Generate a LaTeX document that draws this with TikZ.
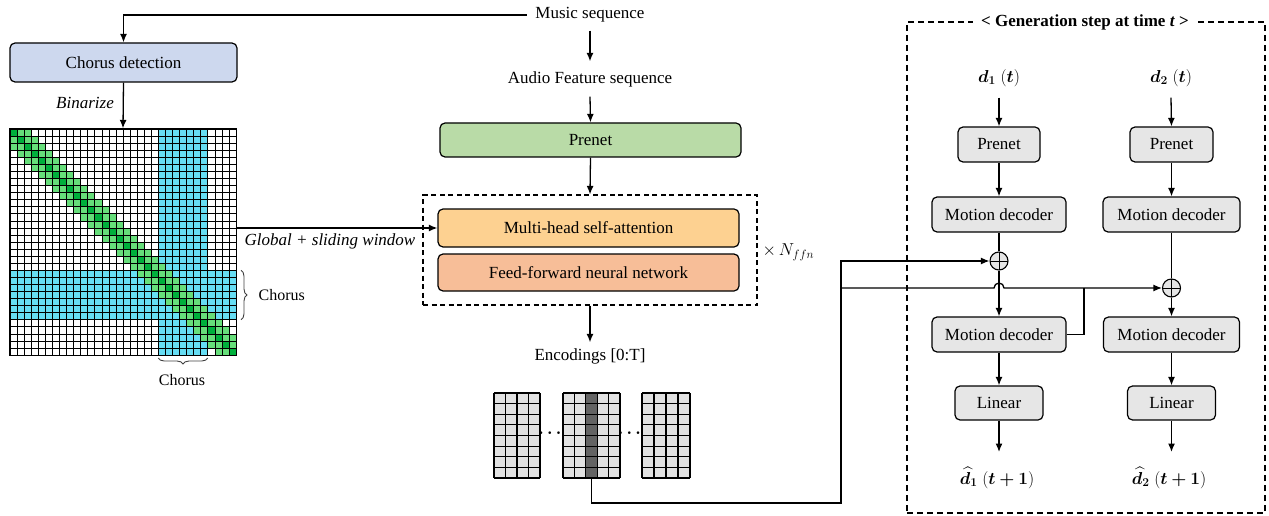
\documentclass[tikz,border=0pt]{standalone}
\usepackage{amsmath,bm}
\usepackage{fontspec}
\setmainfont{Liberation Serif}
\usetikzlibrary{arrows.meta,decorations.pathreplacing}
\AtBeginDocument{\fontsize{17}{20}\selectfont}

\definecolor{chorusbox}{RGB}{205,216,238}
\definecolor{prenetgreen}{RGB}{185,219,167}
\definecolor{attnorange}{RGB}{253,209,145}
\definecolor{ffnsalmon}{RGB}{247,190,152}
\definecolor{boxgray}{RGB}{230,230,230}
\definecolor{enccell}{RGB}{226,226,226}
\definecolor{encdark}{RGB}{100,100,100}
\definecolor{chorusfill}{RGB}{102,221,244}
\definecolor{bandlight}{RGB}{102,222,122}
\definecolor{banddark}{RGB}{0,176,60}

\begin{document}
\begin{tikzpicture}[x=1pt,y=-1pt,line width=1.3pt,
  >={Latex[length=8.5pt,width=7pt]},
  box/.style={draw,rounded corners=5pt,inner sep=0pt,line width=1.2pt},
  graybox/.style={box,fill=boxgray},
  lbl/.style={inner sep=0pt},
  frame/.style={draw,dash pattern=on 5pt off 3.5pt,line width=1.1pt,inner sep=0pt},
  plus/.style={draw,circle,fill=boxgray,minimum size=18pt,inner sep=0pt,line width=1.1pt,
    path picture={\draw[line width=0.9pt] (path picture bounding box.north) -- (path picture bounding box.south)
      (path picture bounding box.west) -- (path picture bounding box.east);}},
  mgrid/.style={line width=0.6pt,black},
  encgrid/.style={line width=1.1pt,black},
  chbrace/.style={decorate,decoration={brace,amplitude=6pt},line width=0.9pt,black!75},
  small/.style={font=\fontsize{16}{18}\selectfont}]
\useasboundingbox (0,0) rectangle (1269,516);

% ---------- left branch: chorus detection and attention mask ----------
\node[lbl,inner xsep=8pt,minimum height=30pt] (music) at (590,15) {Music sequence};
\node[box,fill=chorusbox,minimum width=227pt,minimum height=39pt] (chorus) at (123.5,62.5) {Chorus detection};
\node[inner sep=0pt,minimum size=226pt] (mat) at (123,242) {};
\node[lbl,font=\itshape] (bin) at (85,103) {Binarize};

\def\mcell{7.0625}
\foreach \cc in {21,...,27}
  \fill[chorusfill] (10+\cc*\mcell,129) rectangle ++(\mcell,226);
\foreach \rr in {20,...,26}
  \fill[chorusfill] (10,129+\rr*\mcell) rectangle ++(226,\mcell);
\foreach \ii in {0,...,31} {
  \foreach \dd in {-2,...,2} {
    \pgfmathtruncatemacro\jj{\ii+\dd}
    \ifnum\jj>-1 \ifnum\jj<32
      \fill[bandlight] (10+\jj*\mcell,129+\ii*\mcell) rectangle ++(\mcell,\mcell);
    \fi\fi
  }
  \fill[banddark] (10+\ii*\mcell,129+\ii*\mcell) rectangle ++(\mcell,\mcell);
}
\foreach \kk in {0,...,32} {
  \draw[mgrid] (10+\kk*\mcell,129) -- ++(0,226);
  \draw[mgrid] (10,129+\kk*\mcell) -- ++(226,0);
}
\draw[line width=1.4pt] (mat.north west) rectangle (mat.south east);

\draw[chbrace] (241,270.3) -- (241,319.7);
\node[lbl,small,anchor=west] (chr) at (258,295) {Chorus};
\draw[chbrace] (207.7,358) -- (158.3,358);
\node[lbl,small] (chb) at (182,380) {Chorus};

\draw[->] (music.west) -| (chorus.north);
\draw[->] (chorus.south) -- (mat.north);

% ---------- encoder ----------
\node[lbl,minimum height=34pt] (audio) at (590,79) {Audio Feature sequence};
\node[box,fill=prenetgreen,minimum width=301pt,minimum height=34pt] (prenet) at (590.5,140) {Prenet};
\node[frame,minimum width=334pt,minimum height=110pt] (stack) at (590,250) {};
\node[box,fill=attnorange,minimum width=301pt,minimum height=38pt] (mhsa) at (588.5,228) {Multi-head self-attention};
\node[box,fill=ffnsalmon,minimum width=301pt,minimum height=37pt] (ffn) at (588.5,272.5) {Feed-forward neural network};
\node[lbl,anchor=west] (nffn) at (762,252) {$\times\,N_{ffn}$};
\node[lbl,minimum height=26pt] (enc) at (590,356) {Encodings [0:T]};

\draw[->] (music.south) -- (audio.north);
\draw[->] (audio.south) -- (prenet.north);
\draw[->] (prenet.south) -- (stack.north);
\draw[->] (stack.south) -- (enc.north);
\draw[->] (mat.east |- mhsa.west) -- (mhsa.west);
\node[lbl,font=\itshape] (glob) at (330,241) {Global + sliding window};

% encoding frames
\fill[enccell] (494,393) rectangle ++(46,85);
\fill[enccell] (563,393) rectangle ++(57,85);
\fill[enccell] (642,393) rectangle ++(48,85);
\fill[encdark] (585.8,393) rectangle ++(11.4,85);
\foreach \bx/\nc/\cw in {494/4/11.5, 563/5/11.4, 642/4/12} {
  \foreach \kk in {0,...,\nc}
    \draw[encgrid] (\bx+\kk*\cw,393) -- ++(0,85);
  \foreach \rr in {0,...,8}
    \draw[encgrid] (\bx,393+\rr*10.625) -- ++(\nc*\cw,0);
}
\node[lbl] (dots1) at (551.5,433) {$\bm{\cdots}$};
\node[lbl] (dots2) at (631,433) {$\bm{\cdots}$};

% ---------- decoder step ----------
\node[frame,dash pattern=on 6pt off 4pt,minimum width=358pt,minimum height=491pt] (panel) at (1086,267.5) {};
\node[fill=white,font=\bfseries,inner xsep=8pt,inner ysep=2pt] (title) at (1085,22) {< Generation step at time \textit{t} >};

\node[lbl,minimum height=38pt] (d1) at (999,78) {$\bm{d_1}\;(\bm{t})$};
\node[lbl,minimum height=38pt] (d2) at (1171,78) {$\bm{d_2}\;(\bm{t})$};
\node[graybox,minimum width=82pt,minimum height=35pt] (pre1) at (999,144.5) {Prenet};
\node[graybox,minimum width=83pt,minimum height=35pt] (pre2) at (1171.5,144.5) {Prenet};
\node[graybox,minimum width=134pt,minimum height=35pt] (md1) at (999,214.5) {Motion decoder};
\node[graybox,minimum width=137pt,minimum height=35pt] (md2) at (1171.5,214.5) {Motion decoder};
\node[plus] (p1) at (999,261) {};
\node[plus] (p2) at (1171.5,288) {};
\node[graybox,minimum width=134pt,minimum height=35pt] (md3) at (999,334.5) {Motion decoder};
\node[graybox,minimum width=136pt,minimum height=35pt] (md4) at (1171.5,334.5) {Motion decoder};
\node[graybox,minimum width=88pt,minimum height=34pt] (lin1) at (999,403) {Linear};
\node[graybox,minimum width=88pt,minimum height=34pt] (lin2) at (1171.5,403) {Linear};
\coordinate (o1) at (999,452);
\coordinate (o2) at (1171.5,452);
\node[lbl] (h1) at (997,478) {$\widehat{\bm{d}}_{\bm{1}}\;(\bm{t+1})$};
\node[lbl] (h2) at (1169,478) {$\widehat{\bm{d}}_{\bm{2}}\;(\bm{t+1})$};

\draw[->] (d1.south) -- (pre1.north);
\draw[->] (d2.south) -- (pre2.north);
\draw[->] (pre1.south) -- (md1.north);
\draw[->] (pre2.south) -- (md2.north);
\draw (md1.south) -- (p1.north);
\draw (md2.south) -- (p2.north);
\draw[->] (p1.south) -- (md3.north);
\draw[->] (p2.south) -- (md4.north);
\draw[->] (md3.south) -- (lin1.north);
\draw[->] (md4.south) -- (lin2.north);
\draw[->] (lin1.south) -- (o1);
\draw[->] (lin2.south) -- (o2);

% encoder output feeding both decoders
\coordinate (encout) at (591.5,478);
\coordinate (bend) at (841,503);
\coordinate (hop) at ([xshift=-5pt]p1.center);
\coordinate (tap) at (1084,288);
\draw[->] (encout) |- (bend) |- (p1.west);
\draw[->] (bend |- p2.west) -- (hop |- p2.west)
  arc[start angle=180,end angle=0,radius=5pt] -- (p2.west);
\draw (md3.east) -| (tap);
\end{tikzpicture}
\end{document}
